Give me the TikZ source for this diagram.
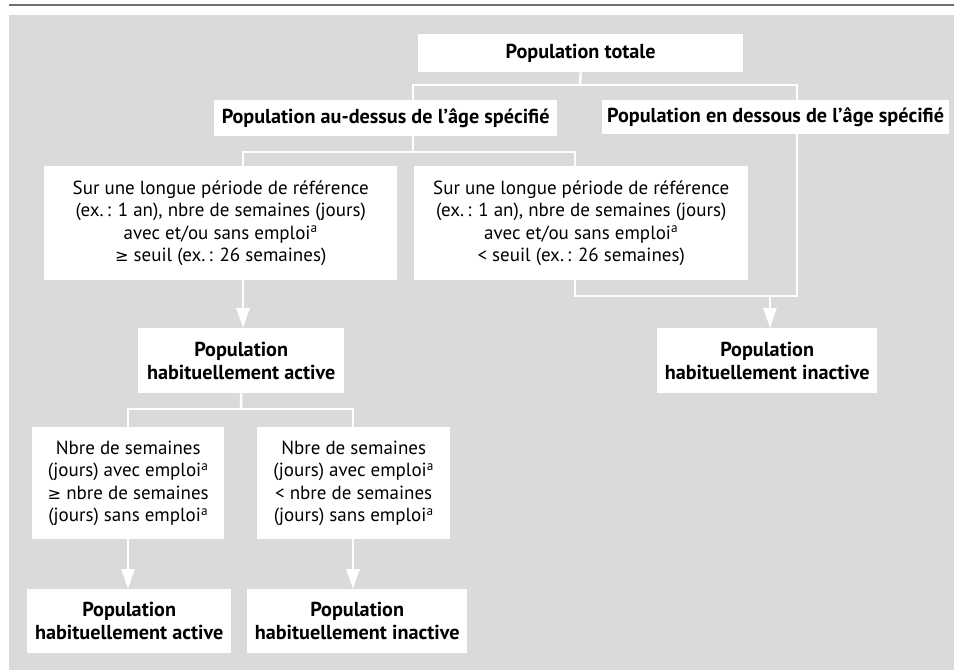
\documentclass[tikz,border=0pt]{standalone}
\usepackage{fontspec}
\setmainfont{PT Sans}
\newfontfamily\symf{DejaVu Sans}[Scale=0.85]
\usetikzlibrary{arrows.meta}
\definecolor{bggray}{HTML}{D9DADC}
\definecolor{rulegray}{HTML}{707070}
\newcommand{\geqs}{{\symf ≥}}
\newcommand{\supa}{\textsuperscript{a}}
\tikzset{
  box/.style={fill=white, inner sep=0pt, align=center, anchor=north west,
    font=\fontsize{19}{22.5}\selectfont},
  bbox/.style={box, font=\bfseries\fontsize{20.2}{23}\selectfont},
  conn/.style={draw=white, line width=2.5pt},
  arr/.style={conn, -{Triangle[width=13pt,length=20pt,fill=white]}},
}
\begin{document}
\begin{tikzpicture}[x=1pt,y=-1pt]
\useasboundingbox (0,0) rectangle (954,670);
\fill[bggray] (9,15) rectangle (954,670);
\draw[rulegray, line width=1.5pt] (9,5) -- (954,5);

% boxes
\node[bbox, minimum width=325pt, minimum height=38pt] (tot) at (418,34) {Population totale};
\node[bbox, minimum width=343pt, minimum height=36pt] (au) at (214,100) {Population au-dessus de l’âge spécifié};
\node[bbox, minimum width=347pt, minimum height=34pt] (en) at (602,100) {Population en dessous de l’âge spécifié};
\node[box, minimum width=353pt, minimum height=114pt] (lgA) at (44,166)
  {Sur une longue période de référence\\(ex.\,: 1 an), nbre de semaines (jours)\\avec et/ou sans emploi\supa\\\geqs{} seuil (ex.\,: 26 semaines)};
\node[box, minimum width=334pt, minimum height=114pt] (lgB) at (414,166)
  {Sur une longue période de référence\\(ex.\,: 1 an), nbre de semaines (jours)\\avec et/ou sans emploi\supa\\< seuil (ex.\,: 26 semaines)};
\node[bbox, minimum width=206pt, minimum height=65pt] (act) at (138,328) {Population\\habituellement active};
\node[bbox, minimum width=220pt, minimum height=65pt] (inact) at (657,328) {Population\\habituellement inactive};
\node[box, minimum width=192pt, minimum height=112pt] (nA) at (32,427)
  {Nbre de semaines\\(jours) avec emploi\supa\\\geqs{} nbre de semaines\\(jours) sans emploi\supa};
\node[box, minimum width=193pt, minimum height=112pt] (nB) at (257,427)
  {Nbre de semaines\\(jours) avec emploi\supa\\< nbre de semaines\\(jours) sans emploi\supa};
\node[bbox, minimum width=204pt, minimum height=64pt] (fA) at (27,589) {Population\\habituellement active};
\node[bbox, minimum width=220pt, minimum height=64pt] (fB) at (247,589) {Population\\habituellement inactive};

% junctions
\coordinate (j1) at (580,85);
\coordinate (j1l) at (413,85);
\coordinate (j1r) at (797,85);
\coordinate (j2) at (413,152);
\coordinate (j2l) at (243,152);
\coordinate (j2r) at (575,152);
\coordinate (j3) at (575,296);
\coordinate (j3r) at (797,296);
\coordinate (j3a) at (770,296);
\coordinate (j4) at (241,409);
\coordinate (j4l) at (128,409);
\coordinate (j4r) at (353,409);

% connectors
\draw[conn] (tot.south) -- (j1);
\draw[conn] (j1l |- au.north) -- (j1l) -- (j1r) -- (j1r |- en.north);
\draw[conn] (j2 |- au.south) -- (j2);
\draw[conn] (j2l |- lgA.north) -- (j2l) -- (j2r) -- (j2r |- lgB.north);
\draw[arr] (j2l |- lgA.south) -- (j2l |- act.north);
\draw[conn] (j2r |- lgB.south) -- (j3) -- (j3r) -- (j1r |- en.south);
\draw[arr] (j3a) -- (j3a |- inact.north);
\draw[conn] (act.south) -- (j4);
\draw[conn] (j4l |- nA.north) -- (j4l) -- (j4r) -- (j4r |- nB.north);
\draw[arr] (j4l |- nA.south) -- (j4l |- fA.north);
\draw[arr] (j4r |- nB.south) -- (j4r |- fB.north);
\end{tikzpicture}
\end{document}
